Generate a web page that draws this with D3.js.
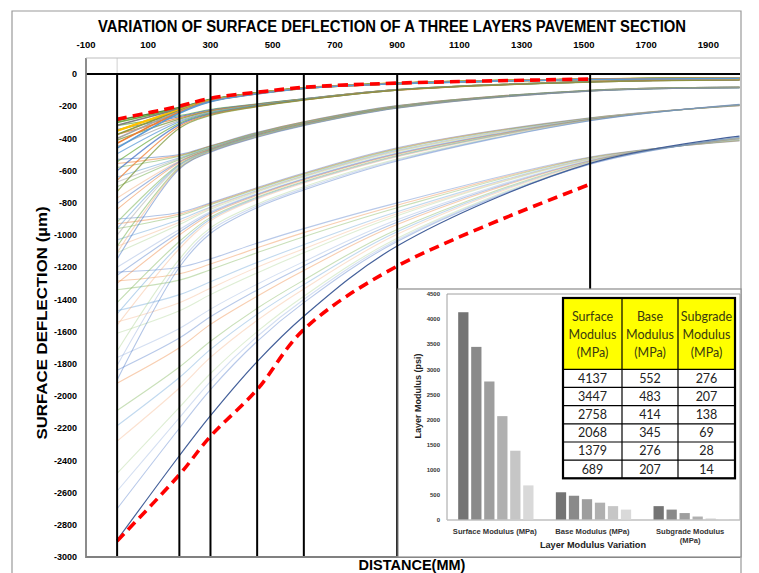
<!DOCTYPE html>
<html>
<head>
<meta charset="utf-8">
<script src="https://cdn.jsdelivr.net/npm/d3@7/dist/d3.min.js"></script>
<style>
body { margin: 0; background: #fff; }
svg { display: block; font-family: "Liberation Sans", Arial, sans-serif; }
</style>
</head>
<body>
<svg id="chart" width="759" height="573"></svg>
<script>
////////////
/// DATA ///
////////////

// distances (mm) at which every deflection curve is given
const distances = [0, 200, 300, 450, 600, 900, 1520, 2000];
// sensor positions drawn as black verticals
const sensorLines = [0, 200, 300, 450, 600, 900, 1520];

const xTicks = [-100, 100, 300, 500, 700, 900, 1100, 1300, 1500, 1700, 1900];
const yTicks = [0, -200, -400, -600, -800, -1000, -1200, -1400, -1600, -1800,
    -2000, -2200, -2400, -2600, -2800, -3000];

// deflection curves (µm), grouped by the band they end in
const bandA = [
    [-288, -208, -157, -116, -85, -57, -31, -25],
    [-300, -212, -159, -117, -86, -57, -32, -25],
    [-318, -216, -161, -118, -86, -58, -32, -25],
    [-352, -222, -163, -119, -87, -58, -32, -26],
    [-375, -227, -165, -120, -87, -59, -33, -26],
    [-400, -232, -167, -121, -88, -59, -33, -26],
    [-430, -237, -169, -122, -88, -60, -33, -27],
    [-460, -243, -171, -123, -89, -60, -34, -27]
];
const bandB = [
    [-320, -258, -220, -185, -153, -96, -45, -34],
    [-345, -265, -224, -187, -154, -96, -46, -34],
    [-375, -272, -228, -189, -155, -97, -46, -34],
    [-410, -280, -232, -191, -156, -97, -47, -35],
    [-450, -288, -236, -193, -157, -98, -47, -35],
    [-495, -296, -240, -195, -158, -98, -48, -35],
    [-545, -305, -244, -197, -159, -99, -48, -35],
    [-600, -314, -248, -199, -160, -99, -49, -36],
    [-660, -324, -252, -201, -161, -100, -49, -36],
    [-730, -336, -257, -203, -162, -100, -50, -36]
];
const bandC = [
    [-530, -500, -445, -362, -296, -196, -100, -80],
    [-555, -505, -447, -364, -297, -197, -100, -80],
    [-580, -510, -450, -366, -299, -198, -101, -81],
    [-640, -520, -455, -369, -302, -200, -102, -81],
    [-670, -525, -457, -370, -303, -200, -102, -81],
    [-700, -530, -460, -372, -304, -201, -102, -82],
    [-770, -540, -464, -375, -307, -203, -103, -82],
    [-805, -545, -466, -376, -308, -204, -103, -83],
    [-840, -550, -468, -378, -309, -205, -103, -83],
    [-920, -560, -472, -381, -312, -207, -104, -84],
    [-960, -565, -474, -382, -313, -207, -104, -84],
    [-1000, -570, -476, -384, -314, -208, -105, -84],
    [-1070, -580, -480, -388, -317, -210, -105, -85],
    [-1110, -585, -482, -390, -318, -211, -106, -85],
    [-1150, -590, -485, -392, -320, -212, -106, -86]
];
const bandD = [
    [-900, -860, -800, -705, -615, -458, -272, -196],
    [-930, -870, -806, -709, -619, -462, -273, -196],
    [-960, -880, -812, -714, -623, -466, -274, -195],
    [-1030, -905, -825, -723, -631, -474, -276, -194],
    [-1070, -920, -832, -728, -635, -478, -277, -194],
    [-1110, -935, -840, -733, -639, -482, -278, -193],
    [-1200, -965, -855, -743, -648, -490, -280, -192],
    [-1250, -982, -863, -748, -652, -494, -281, -192],
    [-1300, -1000, -872, -753, -657, -498, -282, -191],
    [-1420, -1040, -890, -764, -667, -506, -284, -190],
    [-1490, -1062, -900, -770, -672, -510, -285, -190],
    [-1560, -1085, -912, -776, -677, -514, -286, -189],
    [-1720, -1150, -955, -808, -700, -528, -288, -189],
    [-1810, -1175, -972, -819, -710, -534, -289, -188],
    [-1900, -1200, -990, -830, -720, -540, -290, -188]
];
const bandE = [
    [-1230, -1200, -1148, -1050, -960, -800, -515, -415],
    [-1285, -1240, -1180, -1080, -985, -815, -518, -414],
    [-1340, -1280, -1215, -1110, -1010, -830, -520, -412],
    [-1470, -1370, -1290, -1170, -1060, -855, -525, -409],
    [-1540, -1420, -1330, -1200, -1085, -868, -528, -408],
    [-1610, -1470, -1370, -1235, -1110, -880, -530, -406],
    [-1760, -1580, -1460, -1305, -1165, -905, -535, -403],
    [-1840, -1640, -1508, -1342, -1192, -920, -538, -402],
    [-1920, -1700, -1555, -1380, -1220, -935, -540, -400],
    [-2090, -1820, -1660, -1455, -1280, -965, -545, -398],
    [-2185, -1885, -1710, -1492, -1308, -980, -548, -397],
    [-2280, -1950, -1760, -1530, -1335, -995, -550, -396],
    [-2480, -2070, -1860, -1600, -1380, -1020, -555, -394],
    [-2590, -2135, -1910, -1630, -1400, -1030, -558, -393],
    [-2700, -2200, -1960, -1660, -1420, -1040, -560, -392]
];
const softestCase = [-2894, -2371, -2122, -1786, -1504, -1068, -555, -385];
// red dashed envelopes, given up to the last sensor
const upperBound = [-280, -199, -150, -113, -82, -56, -31];
const lowerBound = [-2900, -2489, -2250, -1960, -1587, -1193, -684];

// inset bar chart and table
const layerNames = ['Surface Modulus (MPa)', 'Base Modulus (MPa)', 'Subgrade Modulus (MPa)'];
const layerLabelLines = [['Surface Modulus (MPa)'], ['Base Modulus (MPa)'], ['Subgrade Modulus', '(MPa)']];
const surfaceModulus = [4137, 3447, 2758, 2068, 1379, 689];
const baseModulus = [552, 483, 414, 345, 276, 207];
const subgradeModulus = [276, 207, 138, 69, 28, 14];
const insetTicks = [0, 500, 1000, 1500, 2000, 2500, 3000, 3500, 4000, 4500];
const tableHeader = [['Surface', 'Modulus', '(MPa)'], ['Base', 'Modulus', '(MPa)'], ['Subgrade', 'Modulus', '(MPa)']];

//////////////
/// STYLES ///
//////////////

const pastel = ['#4472c4', '#ed7d31', '#70ad47', '#5b9bd5', '#f4b183', '#a9d18e', '#8faadc'];
const bandStyles = [
    {data: bandE, opacity: 0.38, width: 1.1, colors: pastel},
    {data: bandD, opacity: 0.42, width: 1.1, colors: pastel},
    {data: bandC, opacity: 0.5, width: 1.1, colors: ['#4472c4', '#ed7d31', '#70ad47', '#5b9bd5', '#a5a5a5', '#70ad47', '#f4b183']},
    {data: bandB, opacity: 0.75, width: 1.2, colors: ['#70ad47', '#4472c4', '#ed7d31', '#7f9a3c', '#a5a5a5', '#5b9bd5']},
    {data: bandA, opacity: 1, width: 1.6, colors: ['#548235', '#70ad47', '#7f7f7f', '#ffc000', '#8f9a3c', '#a5a5a5', '#ed7d31', '#5b9bd5']}
];
const barGrays = ['#747474', '#8a8a8a', '#9e9e9e', '#b0b0b0', '#c6c6c6', '#d9d9d9'];

const svg = d3.select('#chart');
const narrow = '"Liberation Sans Narrow", "Arial Narrow", "Liberation Sans", Arial, sans-serif';

//////////////////
/// MAIN CHART ///
//////////////////

const x = d3.scaleLinear().domain([-100, 2000]).range([86, 739.5]);
const y = d3.scaleLinear().domain([-3000, 100]).range([557, 58]);

// outer frame
svg.append('path')
    .attr('d', 'M12,573 V11 H741 V573')
    .attr('fill', 'none').attr('stroke', '#9a9a9a').attr('stroke-width', 1.2);

svg.append('text')
    .attr('x', 392).attr('y', 32)
    .attr('text-anchor', 'middle')
    .attr('font-family', narrow).attr('font-weight', 'bold').attr('font-size', 16)
    .attr('textLength', 588).attr('lengthAdjust', 'spacingAndGlyphs')
    .text('VARIATION OF SURFACE DEFLECTION OF  A THREE LAYERS PAVEMENT SECTION');

// top tick labels (axis labels placed high)
svg.append('g').selectAll('text').data(xTicks).enter()
    .append('text')
    .attr('x', function(d) {return x(d)})
    .attr('y', 48)
    .attr('text-anchor', 'middle')
    .attr('font-family', narrow).attr('font-weight', 'bold').attr('font-size', 9.5)
    .text(function(d) {return d});

// left tick labels
svg.append('g').selectAll('text').data(yTicks).enter()
    .append('text')
    .attr('x', 77)
    .attr('y', function(d) {return y(d) + 3.2})
    .attr('text-anchor', 'end')
    .attr('font-weight', 'bold').attr('font-size', 9)
    .text(function(d) {return d});

svg.append('text')
    .attr('transform', 'translate(47,323) rotate(-90)')
    .attr('text-anchor', 'middle')
    .attr('font-weight', 'bold').attr('font-size', 15)
    .attr('textLength', 233).attr('lengthAdjust', 'spacingAndGlyphs')
    .text('SURFACE DEFLECTION (µm)');

svg.append('text')
    .attr('x', 412).attr('y', 570)
    .attr('text-anchor', 'middle')
    .attr('font-weight', 'bold').attr('font-size', 14.5)
    .text('DISTANCE(MM)');

// plot area
svg.append('defs').append('clipPath').attr('id', 'plot-clip')
    .append('rect').attr('x', 86).attr('y', 58).attr('width', 654).attr('height', 499);

svg.append('line')
    .attr('x1', x(0)).attr('x2', x(0)).attr('y1', 58).attr('y2', y(0))
    .attr('stroke', '#d0d0d0').attr('stroke-width', 1);

const curves = svg.append('g').attr('clip-path', 'url(#plot-clip)');

const line = d3.line()
    .x(function(d, i) {return x(distances[i])})
    .y(function(d) {return y(d)})
    .curve(d3.curveCatmullRom.alpha(0.5));

bandStyles.forEach(function(band) {
    if (band.data === bandA) {
        // yellow curve of band A shows under the greens
        curves.append('path')
            .attr('d', line(bandA[3]))
            .attr('fill', 'none').attr('stroke', '#ffc000').attr('stroke-width', 2.2);
    }
    curves.append('g')
        .attr('fill', 'none')
        .attr('stroke-opacity', band.opacity)
        .selectAll('path').data(band.data).enter()
            .append('path')
            .attr('d', line)
            .attr('stroke', function(d, i) {return band.colors[i % band.colors.length]})
            .attr('stroke-width', band.width);
});

// sensor verticals and zero line
svg.append('g').selectAll('line').data(sensorLines).enter()
    .append('line')
    .attr('x1', function(d) {return x(d)})
    .attr('x2', function(d) {return x(d)})
    .attr('y1', y(0)).attr('y2', 557)
    .attr('stroke', '#000').attr('stroke-width', 2);

svg.append('line')
    .attr('x1', 86).attr('x2', 740).attr('y1', y(0)).attr('y2', y(0))
    .attr('stroke', '#000').attr('stroke-width', 2);

curves.append('path')
    .attr('d', line(softestCase))
    .attr('fill', 'none').attr('stroke', '#44609a').attr('stroke-width', 1.2);

[upperBound, lowerBound].forEach(function(b) {
    curves.append('path')
        .attr('d', line(b))
        .attr('fill', 'none').attr('stroke', '#ff0000')
        .attr('stroke-width', 3.6).attr('stroke-dasharray', '10,6');
});

// plot border
svg.append('path')
    .attr('d', 'M86,58 V557 H740')
    .attr('fill', 'none').attr('stroke', '#808080').attr('stroke-width', 1.8);
svg.append('line')
    .attr('x1', 86).attr('x2', 740).attr('y1', 58).attr('y2', 58)
    .attr('stroke', '#bdbdbd').attr('stroke-width', 1);

/////////////////
/// INSET BAR ///
/////////////////

svg.append('rect')
    .attr('x', 398).attr('y', 289).attr('width', 343).attr('height', 268)
    .attr('fill', '#fff').attr('stroke', '#8c8c8c').attr('stroke-width', 1.2);

const xb = d3.scaleBand().domain(layerNames).range([447, 740]);
const xi = d3.scaleBand().domain(d3.range(6)).range([0, xb.bandwidth()])
    .paddingInner(0.21).paddingOuter(0.86);
const yb = d3.scaleLinear().domain([0, 4500]).range([520, 294]);

const layerValues = [surfaceModulus, baseModulus, subgradeModulus];

svg.append('path')
    .attr('d', 'M740,294 H447 V520 H740 V294')
    .attr('fill', 'none').attr('stroke', '#a0a0a0').attr('stroke-width', 1);

layerNames.forEach(function(name, j) {
    svg.append('g').selectAll('rect').data(layerValues[j]).enter()
        .append('rect')
        .attr('x', function(d, i) {return xb(name) + xi(i)})
        .attr('y', function(d) {return yb(d)})
        .attr('width', xi.bandwidth())
        .attr('height', function(d) {return yb(0) - yb(d)})
        .attr('fill', function(d, i) {return barGrays[i]});
});

svg.append('line')
    .attr('x1', 447).attr('x2', 740).attr('y1', yb(0)).attr('y2', yb(0))
    .attr('stroke', '#d0d0d0').attr('stroke-width', 1);

svg.append('g').selectAll('text').data(insetTicks).enter()
    .append('text')
    .attr('x', 440)
    .attr('y', function(d) {return yb(d) + 2.2})
    .attr('text-anchor', 'end')
    .attr('font-weight', 'bold').attr('font-size', 6).attr('fill', '#333')
    .text(function(d) {return d});

svg.append('text')
    .attr('transform', 'translate(421,396) rotate(-90)')
    .attr('text-anchor', 'middle')
    .attr('font-weight', 'bold').attr('font-size', 9).attr('fill', '#222')
    .text('Layer Modulus (psi)');

layerNames.forEach(function(name, j) {
    svg.append('g').selectAll('text').data(layerLabelLines[j]).enter()
        .append('text')
        .attr('x', xb(name) + xb.bandwidth() / 2 - 1)
        .attr('y', function(d, i) {return 534 + i * 9})
        .attr('text-anchor', 'middle')
        .attr('font-weight', 'bold').attr('font-size', 7.6).attr('fill', '#333')
        .text(function(d) {return d});
});

svg.append('text')
    .attr('x', 593).attr('y', 548)
    .attr('text-anchor', 'middle')
    .attr('font-weight', 'bold').attr('font-size', 9.2).attr('fill', '#222')
    .text('Layer Modulus Variation');

/////////////
/// TABLE ///
/////////////

const colEdges = [563, 622, 678, 735];
const headerTop = 298, headerBottom = 369.3, rowH = 18.17;
const table = svg.append('g').attr('font-family', 'Lato, "Open Sans", sans-serif').attr('font-size', 12.5);

table.append('rect')
    .attr('x', colEdges[0]).attr('y', headerTop)
    .attr('width', colEdges[3] - colEdges[0]).attr('height', headerBottom - headerTop)
    .attr('fill', '#ffff00');
table.append('rect')
    .attr('x', colEdges[0]).attr('y', headerBottom)
    .attr('width', colEdges[3] - colEdges[0]).attr('height', rowH * 6)
    .attr('fill', '#fff');

tableHeader.forEach(function(lines, c) {
    table.append('g').selectAll('text').data(lines).enter()
        .append('text')
        .attr('x', (colEdges[c] + colEdges[c + 1]) / 2)
        .attr('y', function(d, i) {return 321 + i * 18})
        .attr('text-anchor', 'middle').attr('fill', '#3a3a10')
        .text(function(d) {return d});
});

layerValues.forEach(function(vals, c) {
    table.append('g').selectAll('text').data(vals).enter()
        .append('text')
        .attr('x', (colEdges[c] + colEdges[c + 1]) / 2)
        .attr('y', function(d, i) {return headerBottom + rowH * i + 13.5})
        .attr('text-anchor', 'middle').attr('fill', '#222')
        .text(function(d) {return d});
});

// grid lines
const rowEdges = [headerBottom];
surfaceModulus.forEach(function(d, i) {rowEdges.push(headerBottom + rowH * (i + 1))});
table.append('g').selectAll('line').data(rowEdges).enter()
    .append('line')
    .attr('x1', colEdges[0]).attr('x2', colEdges[3])
    .attr('y1', function(d) {return d}).attr('y2', function(d) {return d})
    .attr('stroke', '#000').attr('stroke-width', 1.2);
table.append('g').selectAll('line').data(colEdges).enter()
    .append('line')
    .attr('x1', function(d) {return d}).attr('x2', function(d) {return d})
    .attr('y1', headerTop).attr('y2', headerBottom + rowH * 6)
    .attr('stroke', '#000').attr('stroke-width', 1.2);
table.append('rect')
    .attr('x', colEdges[0]).attr('y', headerTop)
    .attr('width', colEdges[3] - colEdges[0]).attr('height', headerBottom + rowH * 6 - headerTop)
    .attr('fill', 'none').attr('stroke', '#000').attr('stroke-width', 2.2);
</script>
</body>
</html>
